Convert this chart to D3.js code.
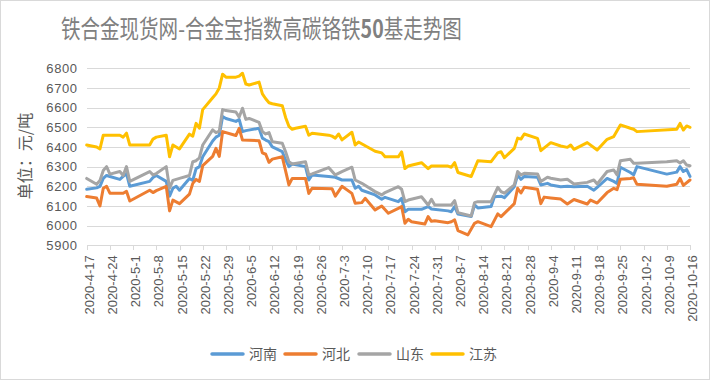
<!DOCTYPE html>
<html><head><meta charset="utf-8">
<script src="https://cdn.jsdelivr.net/npm/d3@7/dist/d3.min.js"></script>
<style>body{margin:0;background:#fff}svg{display:block}</style>
</head><body>
<svg id="chart" width="710" height="380"></svg>
<script>
const titleMain = "铁合金现货网-合金宝指数高碳铬铁";
const titleNum = "50";
const titleTail = "基走势图";
const yAxisTitle = "单位：元/吨";
const seriesNames = ["河南", "河北", "山东", "江苏"];
const seriesColors = ["#5b9bd5", "#ed7d31", "#a5a5a5", "#ffc000"];
const xTickLabels = ["2020-4-17","2020-4-24","2020-5-1","2020-5-8","2020-5-15","2020-5-22","2020-5-29","2020-6-5","2020-6-12","2020-6-19","2020-6-26","2020-7-3","2020-7-10","2020-7-17","2020-7-24","2020-7-31","2020-8-7","2020-8-14","2020-8-21","2020-8-28","2020-9-4","2020-9-11","2020-9-18","2020-9-25","2020-10-2","2020-10-9","2020-10-16"];
const yTicks = [5900, 6000, 6100, 6200, 6300, 6400, 6500, 6600, 6700, 6800];

// 河南
const henanDates = ["4-17","4-20","4-21","4-22","4-23","4-24","4-27","4-28","4-29","4-30",
  "5-6","5-7","5-8","5-11","5-12","5-13","5-14","5-15","5-18","5-19",
  "5-20","5-21","5-22","5-25","5-26","5-27","5-28","5-29","6-1","6-2",
  "6-3","6-4","6-8","6-9","6-10","6-11","6-12","6-15","6-16","6-17",
  "6-18","6-22","6-23","6-24","6-29","7-1","7-3","7-6","7-7","7-8",
  "7-9","7-13","7-15","7-16","7-20","7-21","7-22","7-23","7-27","7-29",
  "7-30","8-4","8-5","8-6","8-7","8-11","8-12","8-13","8-17","8-18",
  "8-20","8-21","8-24","8-25","8-26","8-27","8-31","9-1","9-3","9-4",
  "9-7","9-9","9-11","9-15","9-17","9-18","9-21","9-23","9-24","9-25",
  "9-28","9-29","9-30","10-9","10-12","10-13","10-14","10-15","10-16"];
const henanValues = [6185,6192,6200,6240,6255,6250,6235,6250,6265,6200,
  6225,6245,6255,6225,6150,6190,6200,6180,6240,6230,
  6290,6300,6350,6430,6450,6460,6555,6545,6530,6540,
  6478,6483,6495,6445,6435,6427,6400,6376,6334,6300,
  6313,6300,6232,6258,6250,6246,6232,6232,6190,6200,
  6180,6156,6134,6144,6122,6139,6071,6083,6083,6097,
  6085,6075,6071,6097,6059,6046,6105,6090,6097,6147,
  6150,6142,6198,6257,6235,6250,6246,6207,6215,6207,
  6198,6200,6198,6200,6180,6195,6240,6225,6215,6297,
  6270,6258,6300,6262,6272,6300,6275,6285,6250];

// 河北
const hebeiDates = ["4-17","4-20","4-21","4-22","4-23","4-24","4-28","4-29","4-30","5-6",
  "5-7","5-8","5-11","5-12","5-13","5-15","5-18","5-19","5-20","5-21",
  "5-22","5-25","5-26","5-27","5-28","6-1","6-2","6-3","6-8","6-9",
  "6-10","6-11","6-12","6-15","6-17","6-18","6-22","6-23","6-24","6-30",
  "7-1","7-3","7-6","7-7","7-9","7-10","7-13","7-15","7-17","7-20",
  "7-21","7-22","7-23","7-24","7-28","7-29","7-30","7-31","8-4","8-5",
  "8-6","8-7","8-10","8-12","8-13","8-17","8-19","8-20","8-24","8-25",
  "8-26","8-27","8-31","9-1","9-2","9-4","9-7","9-9","9-11","9-15",
  "9-16","9-18","9-21","9-23","9-24","9-25","9-28","9-29","9-30","10-9",
  "10-12","10-13","10-14","10-16"];
const hebeiValues = [6148,6140,6100,6190,6200,6165,6165,6175,6125,6180,
  6168,6178,6200,6075,6130,6112,6160,6215,6235,6225,
  6305,6352,6393,6352,6478,6458,6495,6435,6432,6370,
  6363,6322,6338,6350,6207,6240,6240,6164,6190,6188,
  6150,6200,6164,6114,6117,6139,6080,6100,6063,6088,
  6097,6012,6032,6020,6008,6046,6022,6025,6015,6020,
  6029,5975,5953,6012,6020,5995,6060,6046,6112,6190,
  6166,6195,6185,6112,6145,6141,6135,6110,6133,6110,
  6130,6115,6168,6190,6183,6236,6240,6243,6210,6200,
  6210,6240,6205,6232];

// 山东
const shandongDates = ["4-17","4-20","4-21","4-22","4-23","4-24","4-27","4-28","4-29","4-30",
  "5-6","5-7","5-8","5-11","5-12","5-13","5-15","5-18","5-19","5-20",
  "5-21","5-22","5-25","5-26","5-27","5-28","5-29","6-1","6-2","6-3",
  "6-4","6-5","6-8","6-9","6-10","6-11","6-12","6-15","6-16","6-17",
  "6-18","6-22","6-23","6-24","6-29","7-1","7-3","7-6","7-7","7-9",
  "7-13","7-15","7-16","7-20","7-21","7-22","7-23","7-27","7-29","7-30",
  "7-31","8-4","8-5","8-6","8-7","8-11","8-12","8-13","8-17","8-19",
  "8-20","8-21","8-24","8-25","8-26","8-27","8-31","9-1","9-3","9-4",
  "9-7","9-9","9-11","9-15","9-17","9-18","9-21","9-23","9-24","9-25",
  "9-28","9-29","9-30","10-9","10-12","10-13","10-14","10-15","10-16"];
const shandongValues = [6240,6210,6230,6280,6300,6262,6275,6255,6300,6225,
  6275,6258,6265,6300,6190,6230,6240,6255,6325,6330,
  6345,6410,6487,6473,6480,6590,6585,6578,6552,6597,
  6540,6545,6525,6478,6466,6473,6427,6419,6376,6325,
  6313,6325,6258,6263,6295,6258,6275,6297,6232,6215,
  6173,6156,6168,6198,6185,6122,6130,6147,6105,6134,
  6105,6105,6105,6127,6066,6049,6117,6122,6122,6195,
  6173,6165,6207,6275,6258,6266,6263,6224,6246,6241,
  6232,6236,6212,6220,6232,6212,6275,6283,6258,6330,
  6337,6317,6317,6325,6330,6318,6330,6308,6305];

// 江苏
const jiangsuDates = ["4-17","4-20","4-21","4-22","4-27","4-28","4-29","4-30","5-6","5-7",
  "5-8","5-11","5-12","5-13","5-15","5-18","5-19","5-20","5-21","5-22",
  "5-25","5-26","5-27","5-28","5-29","6-1","6-2","6-3","6-4","6-5",
  "6-8","6-9","6-10","6-11","6-12","6-15","6-16","6-17","6-18","6-19",
  "6-22","6-23","6-24","6-29","6-30","7-1","7-2","7-3","7-6","7-7",
  "7-8","7-13","7-15","7-16","7-20","7-21","7-22","7-23","7-27","7-29",
  "7-30","8-4","8-5","8-6","8-7","8-11","8-13","8-17","8-19","8-20",
  "8-21","8-24","8-25","8-26","8-27","8-31","9-1","9-4","9-7","9-9",
  "9-10","9-11","9-15","9-18","9-21","9-23","9-25","9-28","9-29","9-30",
  "10-12","10-13","10-14","10-15","10-16"];
const jiangsuValues = [6410,6400,6390,6460,6460,6450,6470,6410,6410,6440,
  6450,6460,6350,6410,6390,6465,6455,6520,6495,6590,
  6650,6670,6700,6770,6755,6755,6760,6775,6720,6715,
  6730,6670,6645,6625,6620,6610,6550,6505,6490,6495,
  6505,6460,6470,6460,6455,6445,6466,6436,6475,6410,
  6425,6378,6370,6350,6350,6375,6290,6303,6320,6290,
  6303,6303,6297,6320,6270,6250,6330,6325,6370,6376,
  6345,6393,6445,6440,6466,6444,6381,6422,6405,6398,
  6410,6388,6422,6385,6439,6453,6512,6495,6490,6478,
  6490,6520,6486,6507,6500];

const seriesDates = [henanDates, hebeiDates, shandongDates, jiangsuDates];
const seriesValues = [henanValues, hebeiValues, shandongValues, jiangsuValues];

function parseMD(s) { const p = s.split("-").map(Number); return new Date(2020, p[0] - 1, p[1]); }
function parseFull(s) { const p = s.split("-").map(Number); return new Date(p[0], p[1] - 1, p[2]); }

const svg = d3.select("#chart");
const W = 710, H = 380;
const plot = { left: 86.7, right: 690, top: 68.3, bottom: 245.3 };
const textColor = "#595959";
const gridColor = "#d9d9d9";
const font = "'Liberation Sans', Arial, sans-serif";
const cjk = "'Noto Sans CJK SC', 'Noto Sans', sans-serif";

svg.append("rect").attr("x", 0).attr("y", 0).attr("width", W).attr("height", H).attr("fill", "#fff");
svg.append("rect").attr("x", 0.5).attr("y", 0.5).attr("width", W - 1).attr("height", H - 1)
  .attr("fill", "none").attr("stroke", gridColor).attr("stroke-width", 1);

const x = d3.scaleTime()
  .domain([parseFull(xTickLabels[0]), parseFull(xTickLabels[xTickLabels.length - 1])])
  .range([plot.left, plot.right]);
const y = d3.scaleLinear().domain([5900, 6800]).range([plot.bottom, plot.top]);

// Title (horizontally condensed to the reference width)
const titleG = svg.append("g");
const title = titleG.append("text").attr("x", 0).attr("y", 0)
  .attr("font-family", cjk).attr("font-size", 25).attr("fill", "#808080");
title.append("tspan").text(titleMain);
title.append("tspan").attr("font-weight", "bold").text(titleNum);
title.append("tspan").text(titleTail);
const tw = title.node().getComputedTextLength() || 500;
titleG.attr("transform", `translate(61,38) scale(${401 / tw},1)`);

// Y grid + labels
const yAxis = d3.axisLeft(y).tickValues(yTicks).tickSize(-(plot.right - plot.left)).tickPadding(10).tickFormat(d3.format("d"));
const gy = svg.append("g").attr("transform", `translate(${plot.left},0)`).call(yAxis);
gy.select(".domain").remove();
gy.selectAll(".tick line").attr("stroke", gridColor).attr("shape-rendering", "crispEdges");
gy.selectAll(".tick text").attr("fill", textColor).attr("font-family", font).attr("font-size", 13)
  .attr("letter-spacing", 0.6).attr("x", -9);

// X axis
const xTickDates = xTickLabels.map(parseFull);
const xAxis = d3.axisBottom(x).tickValues(xTickDates).tickSize(5).tickPadding(0)
  .tickFormat((d, i) => xTickLabels[i]);
const gx = svg.append("g").attr("transform", `translate(0,${plot.bottom})`).call(xAxis);
gx.select(".domain").attr("stroke", gridColor).attr("d", `M${plot.left},0H${plot.right}`).attr("shape-rendering", "crispEdges");
gx.selectAll(".tick line").attr("stroke", gridColor).attr("shape-rendering", "crispEdges");
gx.selectAll(".tick text")
  .attr("fill", textColor).attr("font-family", font).attr("font-size", 13)
  .attr("text-anchor", "end").attr("dy", "0.35em")
  .attr("transform", "translate(2,10) rotate(-90)").attr("x", 0).attr("y", 0);

// Y axis title
svg.append("text").attr("transform", "translate(31,156) rotate(-90)")
  .attr("text-anchor", "middle").attr("font-family", cjk).attr("font-size", 16)
  .attr("fill", textColor).text(yAxisTitle);

// Lines
const line = d3.line().x(d => x(d[0])).y(d => y(d[1]));
seriesNames.forEach((name, i) => {
  const pts = d3.zip(seriesDates[i].map(parseMD), seriesValues[i]);
  svg.append("path").datum(pts).attr("d", line)
    .attr("fill", "none").attr("stroke", seriesColors[i]).attr("stroke-width", 3)
    .attr("stroke-linejoin", "round").attr("stroke-linecap", "round");
});

// Legend
const legendX = [210, 283, 357, 430];
const lg = svg.append("g");
seriesNames.forEach((name, i) => {
  lg.append("line").attr("x1", legendX[i] + 2).attr("x2", legendX[i] + 33).attr("y1", 354).attr("y2", 354)
    .attr("stroke", seriesColors[i]).attr("stroke-width", 3.5).attr("stroke-linecap", "round");
  lg.append("text").attr("x", legendX[i] + 39).attr("y", 359)
    .attr("font-family", cjk).attr("font-size", 14).attr("fill", textColor).text(name);
});
</script>
</body></html>
